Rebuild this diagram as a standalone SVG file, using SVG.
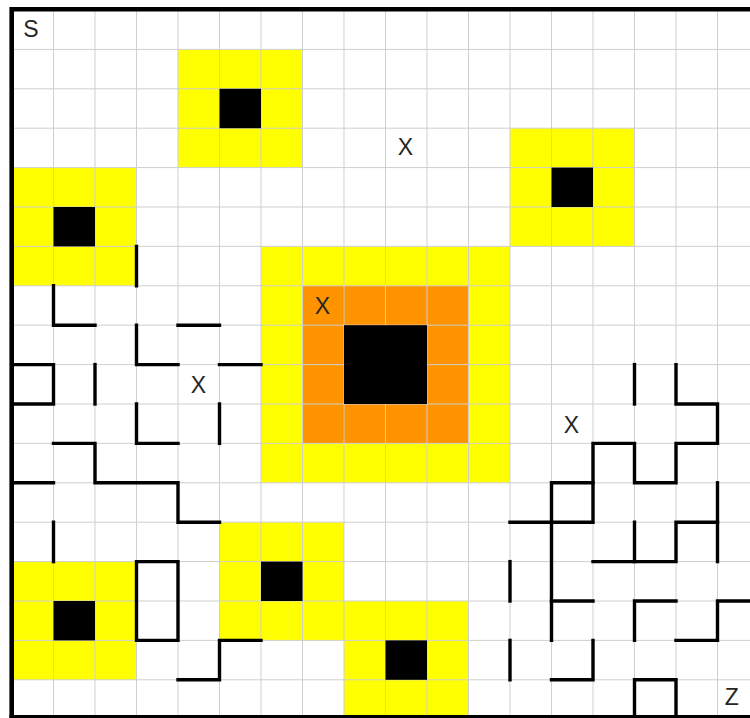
<svg xmlns="http://www.w3.org/2000/svg" width="750" height="718" viewBox="0 0 750 718">
<style>
.y{fill:#ffff00}
.o{fill:#ff9400}
.b{fill:#000}
.g{stroke:#cfcfcf;stroke-width:1;fill:none;vector-effect:non-scaling-stroke}
.w{stroke:#000;stroke-width:3.4;fill:none;stroke-linecap:square;stroke-linejoin:miter;vector-effect:non-scaling-stroke}
.t{font-family:"Liberation Sans",Arial,sans-serif;font-size:23px;fill:#262626;text-anchor:middle}
</style>
<rect width="750" height="718" fill="#fff"/>
<g transform="translate(12,10) scale(41.5,39.4)">
  <g id="fills">
    <rect class="y" x="4" y="1" width="3" height="3"/>
    <rect class="y" x="0" y="4" width="3" height="3"/>
    <rect class="y" x="12" y="3" width="3" height="3"/>
    <rect class="y" x="6" y="6" width="6" height="6"/>
    <rect class="o" x="7" y="7" width="4" height="4"/>
    <rect class="y" x="0" y="14" width="3" height="3"/>
    <rect class="y" x="5" y="13" width="3" height="3"/>
    <rect class="y" x="8" y="15" width="3" height="3"/>
  </g>
  <g id="grid">
    <path class="g" d="M1 0V17.95M2 0V17.95M3 0V17.95M4 0V17.95M5 0V17.95M6 0V17.95M7 0V17.95M8 0V17.95M9 0V17.95M10 0V17.95M11 0V17.95M12 0V17.95M13 0V17.95M14 0V17.95M15 0V17.95M16 0V17.95M17 0V17.95"/>
    <path class="g" d="M0 1H18M0 2H18M0 3H18M0 4H18M0 5H18M0 6H18M0 7H18M0 8H18M0 9H18M0 10H18M0 11H18M0 12H18M0 13H18M0 14H18M0 15H18M0 16H18M0 17H18"/>
  </g>
  <g id="blocks">
    <rect class="b" x="5" y="2" width="1" height="1"/>
    <rect class="b" x="1" y="5" width="1" height="1"/>
    <rect class="b" x="13" y="4" width="1" height="1"/>
    <rect class="b" x="8" y="8" width="2" height="2"/>
    <rect class="b" x="1" y="15" width="1" height="1"/>
    <rect class="b" x="6" y="14" width="1" height="1"/>
    <rect class="b" x="9" y="16" width="1" height="1"/>
  </g>
  <g id="walls">
    <polyline class="w" points="3,6 3,7"/>
    <polyline class="w" points="1,7 1,8 2,8"/>
    <polyline class="w" points="4,8 5,8"/>
    <polyline class="w" points="3,8 3,9 4,9"/>
    <polyline class="w" points="5,9 6,9"/>
    <polyline class="w" points="0,9 1,9 1,10 0,10"/>
    <polyline class="w" points="2,9 2,10"/>
    <polyline class="w" points="3,10 3,11 4,11"/>
    <polyline class="w" points="5,10 5,11"/>
    <polyline class="w" points="1,11 2,11 2,12 4,12 4,13 5,13"/>
    <polyline class="w" points="0,12 1,12"/>
    <polyline class="w" points="1,13 1,14"/>
    <polygon class="w" points="3,14 4,14 4,16 3,16"/>
    <polyline class="w" points="6,16 5,16 5,17 4,17"/>
    <polyline class="w" points="15,9 15,10"/>
    <polyline class="w" points="16,9 16,10 17,10 17,11 16,11 16,12 15,12 15,11 14,11 14,13 12,13"/>
    <polyline class="w" points="14,12 13,12 13,16"/>
    <polyline class="w" points="13,15 14,15"/>
    <polyline class="w" points="17,12 17,14"/>
    <polyline class="w" points="17,13 16,13 16,14 14,14"/>
    <polyline class="w" points="15,13 15,14"/>
    <polyline class="w" points="12,14 12,15"/>
    <polyline class="w" points="15,16 15,15 16,15"/>
    <polyline class="w" points="16,16 17,16 17,15 18.2,15"/>
    <polyline class="w" points="12,16 12,17"/>
    <polyline class="w" points="14,16 14,17 13,17"/>
    <polyline class="w" points="15,18.2 15,17 16,17 16,18.2"/>
  </g>
</g>
<g id="labels">
  <text class="t" x="30.8" y="36.5">S</text>
  <text class="t" x="405.3" y="155">X</text>
  <text class="t" x="322.5" y="314">X</text>
  <text class="t" x="198.5" y="393">X</text>
  <text class="t" x="571.5" y="433">X</text>
  <text class="t" x="731.7" y="705">Z</text>
</g>
<g id="border">
  <path d="M11.7 718V9.3H750" fill="none" stroke="#000" stroke-width="4.6"/>
  <path d="M9.5 716.5H750" fill="none" stroke="#000" stroke-width="3"/>
</g>
</svg>
